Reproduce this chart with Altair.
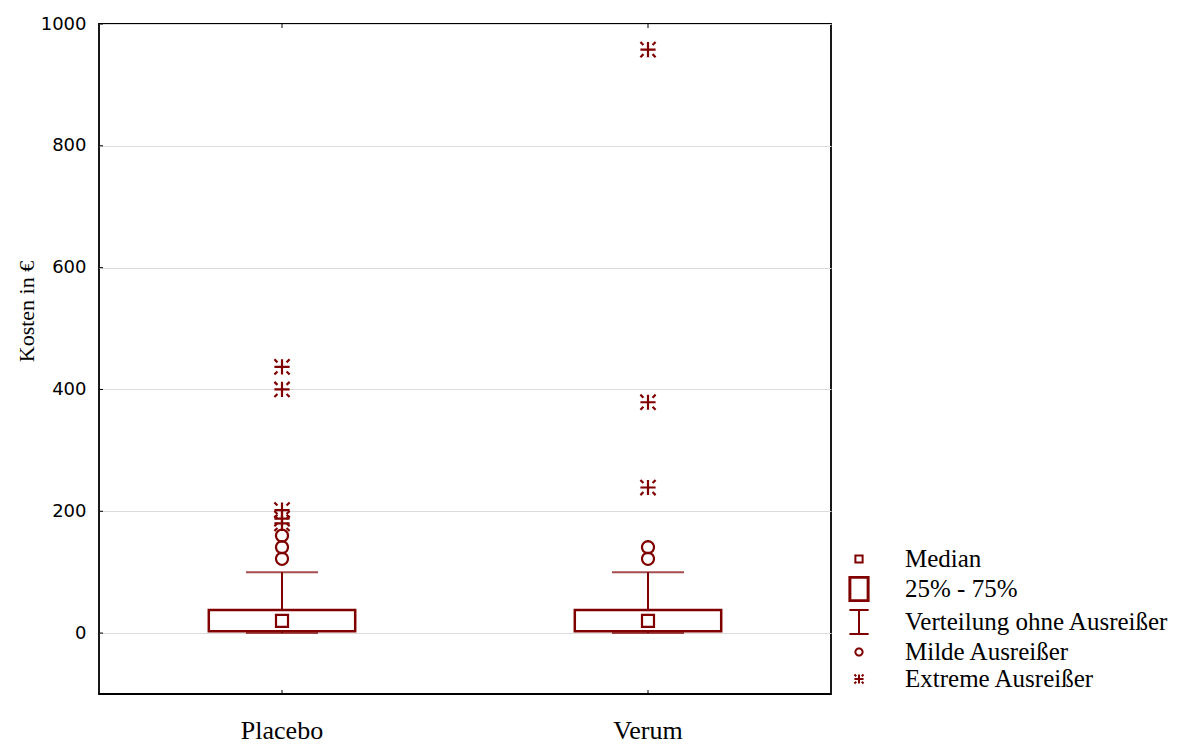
import math
import altair as alt
import pandas as pd

# ---------------- data ----------------
groups = ["Placebo", "Verum"]
q1 = [3, 3]
medians = [20, 20]
q3 = [38, 38]
whisk_lo = [0, 0]
whisk_hi = [100, 100]

mild_groups = ["Placebo", "Placebo", "Placebo", "Verum", "Verum"]
mild_values = [160, 141, 122, 141, 122]

extreme_groups = ["Placebo", "Placebo", "Placebo", "Placebo", "Placebo", "Verum", "Verum", "Verum"]
extreme_values = [437, 400, 202, 188, 180, 958, 379, 239]

legend_labels = ["Median", "25% - 75%", "Verteilung ohne Ausreißer",
                 "Milde Ausreißer", "Extreme Ausreißer"]
y_ticks = [0, 200, 400, 600, 800, 1000]

# ---------------- style ----------------
RED = "#800000"
W, H = 732, 670

def circle_path(r, n=28):
    pts = [(r * math.cos(2 * math.pi * k / n), r * math.sin(2 * math.pi * k / n)) for k in range(n)]
    return "M" + "L".join(f"{x:.3f},{y:.3f}" for x, y in pts) + "Z"

s = 0.38
shape_paths = [
    "M-0.3,-0.3H0.3V0.3H-0.3Z",                                   # median square
    "M-0.8,-1H0.8V1H-0.8ZM-0.72,-0.93H0.72V0.93H-0.72Z",           # 25-75 box
    "M-0.8,-1H0.8M0,-1V1M-0.8,1H0.8",                              # whisker
    circle_path(0.3),                                              # mild outlier
    (f"M-{s},0H{s}M0,-{s}V{s}"
     f"M-{s},-{s}L-{s*0.6:.3f},-{s*0.6:.3f}M{s},-{s}L{s*0.6:.3f},-{s*0.6:.3f}"
     f"M-{s},{s}L-{s*0.6:.3f},{s*0.6:.3f}M{s},{s}L{s*0.6:.3f},{s*0.6:.3f}"),  # extreme outlier
]

stats = pd.DataFrame({"group": groups, "q1": q1, "median": medians, "q3": q3,
                      "lo": whisk_lo, "hi": whisk_hi})

pts = pd.concat([
    pd.DataFrame({"group": groups, "value": medians, "type": "Median"}),
    pd.DataFrame({"group": mild_groups, "value": mild_values, "type": "Milde Ausreißer"}),
    pd.DataFrame({"group": extreme_groups, "value": extreme_values, "type": "Extreme Ausreißer"}),
], ignore_index=True)

ticks_df = pd.DataFrame({"v": y_ticks})
grp_df = pd.DataFrame({"group": groups})

x_enc = alt.X("group:N", sort=groups,
              scale=alt.Scale(domain=groups, paddingInner=0, paddingOuter=0),
              axis=alt.Axis(title=None, labelAngle=0, domain=False, ticks=False, tickSize=0,
                            labelFont="Liberation Serif", labelFontSize=26, labelColor="black",
                            labelBaseline="alphabetic", labelPadding=44, grid=False))

y_scale = alt.Scale(domain=[-100, 1000], nice=False, zero=False)

y_axis = alt.Axis(values=y_ticks, format="d", title="Kosten in €", domain=False, ticks=False,
                  tickSize=0, labelFont="DejaVu Sans", labelFontSize=18, labelColor="black",
                  labelPadding=13, grid=True, gridColor="#dcdcdc", gridWidth=1,
                  titleFont="Liberation Serif", titleFontSize=22, titleFontWeight="normal",
                  titleColor="black", titleX=-66, titleY=287, titleBaseline="alphabetic",
                  titleAngle=270)

base = alt.Chart(stats)

box = base.mark_bar(fill="white", stroke=RED, strokeWidth=2.5,
                    width=alt.RelativeBandSize(0.4)).encode(
    x=x_enc, y=alt.Y("q1:Q", scale=y_scale, axis=y_axis), y2="q3:Q")

whisk_up = base.mark_rule(color=RED, strokeWidth=2).encode(
    x=alt.X("group:N", sort=groups), y=alt.Y("q3:Q", scale=y_scale), y2="hi:Q")
whisk_dn = base.mark_rule(color=RED, strokeWidth=2).encode(
    x=alt.X("group:N", sort=groups), y=alt.Y("lo:Q", scale=y_scale), y2="q1:Q")

cap_hi = base.mark_tick(color=RED, thickness=2, size=72, orient="horizontal").encode(
    x=alt.X("group:N", sort=groups), y=alt.Y("hi:Q", scale=y_scale))
cap_lo = base.mark_tick(color=RED, thickness=2, size=72, orient="horizontal").encode(
    x=alt.X("group:N", sort=groups), y=alt.Y("lo:Q", scale=y_scale))

points = alt.Chart(pts).mark_point(filled=False, color=RED, strokeWidth=2.2, size=1600,
                                   opacity=1).encode(
    x=alt.X("group:N", sort=groups),
    y=alt.Y("value:Q", scale=y_scale),
    shape=alt.Shape("type:N",
                    scale=alt.Scale(domain=legend_labels, range=shape_paths),
                    legend=alt.Legend(title=None, orient="none", legendX=747, legendY=522,
                                      symbolSize=576, symbolStrokeWidth=2,
                                      symbolStrokeColor=RED, symbolFillColor="transparent",
                                      labelFont="Liberation Serif", labelFontSize=25,
                                      labelColor="black", labelOffset=33, rowPadding=1,
                                      padding=0, labelLimit=400)),
)

left_ticks = alt.Chart(ticks_df).mark_rule(color="black", strokeWidth=1).encode(
    y=alt.Y("v:Q", scale=y_scale), x=alt.value(0), x2=alt.value(4))
top_ticks = alt.Chart(grp_df).mark_rule(color="black", strokeWidth=1).encode(
    x=alt.X("group:N", sort=groups), y=alt.value(0), y2=alt.value(4))
bot_ticks = alt.Chart(grp_df).mark_rule(color="black", strokeWidth=1).encode(
    x=alt.X("group:N", sort=groups), y=alt.value(H - 4), y2=alt.value(H))

chart = alt.layer(box, whisk_up, whisk_dn, cap_hi, cap_lo, points,
                  left_ticks, top_ticks, bot_ticks).properties(
    width=W, height=H,
    autosize=alt.AutoSizeParams(type="none"),
    padding={"left": 91, "top": 16, "right": 355, "bottom": 52},
    background="white",
).configure_view(stroke="black", strokeWidth=1.8)

chart.save("out.html", embed_options={"renderer": "svg", "actions": False})
